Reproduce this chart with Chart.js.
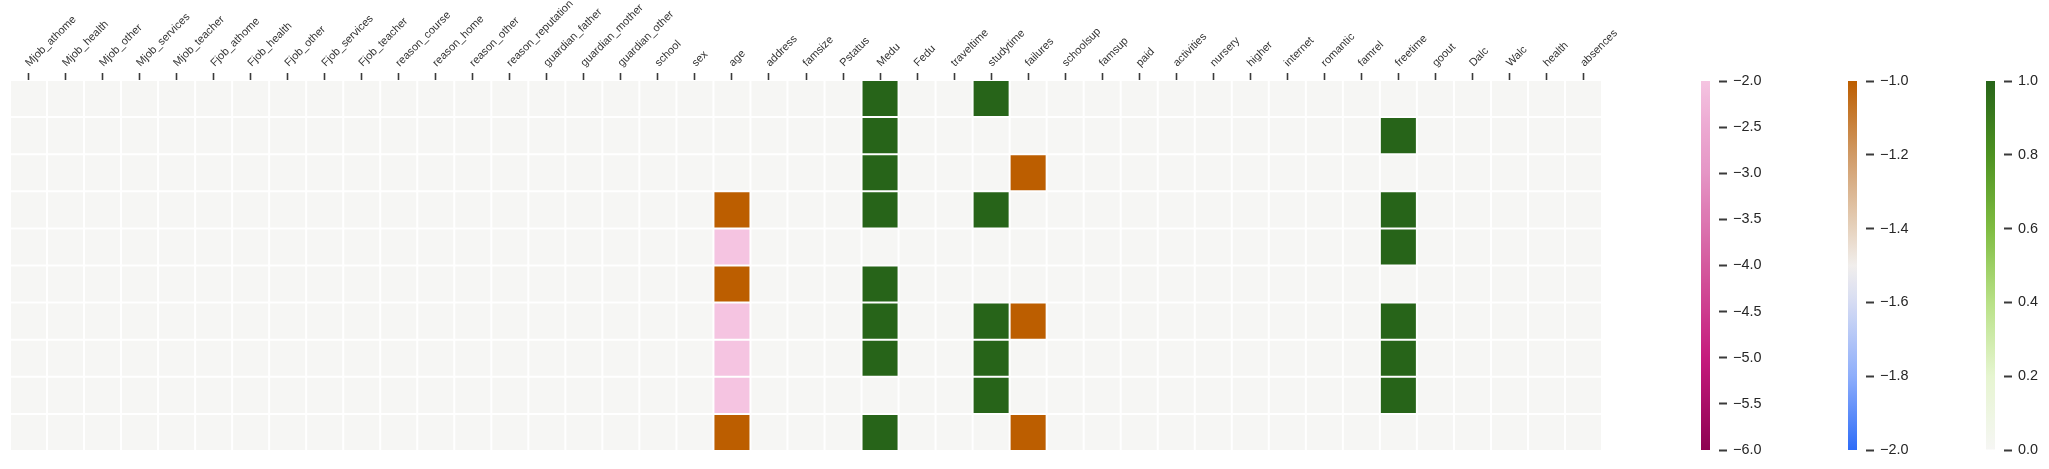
<!DOCTYPE html>
<html>
<head>
<meta charset="utf-8">
<script src="https://cdn.jsdelivr.net/npm/chart.js@4.4.1/dist/chart.umd.min.js"></script>
<style>
  html, body { margin: 0; padding: 0; background: #ffffff; overflow: hidden; }
  body { width: 2049px; height: 469px; position: relative; }
  canvas { position: absolute; }
</style>
</head>
<body>
<canvas id="main" style="left:0px;top:0px;width:1650px;height:469px" width="1650" height="469"></canvas>
<canvas id="cbPink" style="left:1701px;top:60px;width:80px;height:405px" width="80" height="405"></canvas>
<canvas id="cbOrange" style="left:1848px;top:60px;width:80px;height:405px" width="80" height="405"></canvas>
<canvas id="cbGreen" style="left:1986px;top:60px;width:80px;height:405px" width="80" height="405"></canvas>
<script>
// ---------------- data ----------------
const features = [
  'Mjob_athome','Mjob_health','Mjob_other','Mjob_services','Mjob_teacher',
  'Fjob_athome','Fjob_health','Fjob_other','Fjob_services','Fjob_teacher',
  'reason_course','reason_home','reason_other','reason_reputation',
  'guardian_father','guardian_mother','guardian_other',
  'school','sex','age','address','famsize','Pstatus','Medu','Fedu',
  'traveltime','studytime','failures','schoolsup','famsup','paid',
  'activities','nursery','higher','internet','romantic','famrel',
  'freetime','goout','Dalc','Walc','health','absences'
];
const sampleRows = ['0','1','2','3','4','5','6','7','8','9'];

// non-zero columns (all other columns are 0 for every row)
const ageVals       = [0, 0, 0, -1, -2, -1, -2, -2, -2, -1];
const meduVals      = [1, 1, 1, 1, 0, 1, 1, 1, 0, 1];
const studytimeVals = [1, 0, 0, 1, 0, 0, 1, 1, 1, 0];
const failuresVals  = [0, 0, -1, 0, 0, 0, -1, 0, 0, -1];
const freetimeVals  = [0, 1, 0, 1, 1, 0, 1, 1, 1, 0];

// colour bar ranges
const pinkRange   = [-6, -2];
const orangeRange = [-2, -1];
const greenRange  = [0, 1];

// ---------------- colour maps ----------------
const greenStops  = [[0,'#f6f6f4'],[0.2,'#e6f5d0'],[0.4,'#b8e186'],[0.6,'#7fbc41'],[0.8,'#4d9221'],[1,'#276419']];
const orangeStops = [[-2,'#2e6cf7'],[-1.8,'#8eaefb'],[-1.6,'#d6dcf3'],[-1.5,'#f1eeec'],[-1.4,'#e6d2bd'],[-1.2,'#d09a66'],[-1,'#bc5e00']];
const pinkStops   = [[-6,'#8e0152'],[-5,'#c51b7d'],[-4,'#d45a9e'],[-3,'#e595c5'],[-2.5,'#eca9d2'],[-2,'#f5c4e1']];

function hexToRgb(h){ h=h.replace('#',''); return [parseInt(h.slice(0,2),16),parseInt(h.slice(2,4),16),parseInt(h.slice(4,6),16)]; }
function interp(stops, v){
  if (v <= stops[0][0]) return stops[0][1];
  if (v >= stops[stops.length-1][0]) return stops[stops.length-1][1];
  for (let i=0;i<stops.length-1;i++){
    const [a,ca]=stops[i],[b,cb]=stops[i+1];
    if (v>=a && v<=b){
      const t=(v-a)/(b-a), A=hexToRgb(ca), B=hexToRgb(cb);
      const c=A.map((x,k)=>Math.round(x+(B[k]-x)*t));
      return 'rgb('+c.join(',')+')';
    }
  }
  return stops[0][1];
}
function cellColor(v){
  if (v >= 0) return interp(greenStops, v);
  if (v > -2) return interp(orangeStops, v);
  return interp(pinkStops, v);
}

const columnValues = [['age',ageVals],['Medu',meduVals],['studytime',studytimeVals],['failures',failuresVals],['freetime',freetimeVals]];
function valueAt(r, feat){
  for (const [name, arr] of columnValues) if (name === feat) return arr[r];
  return 0;
}

const textColor = '#262626';
const tickColor = '#3a3a3a';
const fam = "'Liberation Sans', Arial, sans-serif";

// rotated top labels drawn at each category tick of the x scale
const rotatedLabels = {
  id: 'rotatedLabels',
  afterDraw(chart) {
    const xs = chart.scales.x, ctx = chart.ctx;
    const baseY = chart.chartArea.top - 7 - 6;
    ctx.save();
    ctx.fillStyle = '#333333';
    ctx.font = "11px " + fam;
    ctx.textAlign = 'left';
    ctx.textBaseline = 'alphabetic';
    xs.ticks.forEach((t, i) => {
      const x = xs.getPixelForTick(i);
      ctx.save();
      ctx.translate(x + 1, baseY);
      ctx.rotate(-Math.PI / 4);
      ctx.fillText(xs.getLabelForValue(t.value), 0, 0);
      ctx.restore();
    });
    ctx.restore();
  }
};

// ---------------- heatmap ----------------
const datasets = sampleRows.map((lab, r) => ({
  label: lab,
  data: features.map(() => [r, r + 1]),
  backgroundColor: features.map(f => cellColor(valueAt(r, f))),
  borderColor: '#ffffff',
  borderWidth: 1,
  borderSkipped: false,
  grouped: false,
  barPercentage: 1,
  categoryPercentage: 1,
  inflateAmount: 0
}));

new Chart(document.getElementById('main'), {
  type: 'bar',
  data: { labels: features, datasets },
  options: {
    responsive: false,
    animation: false,
    devicePixelRatio: 1,
    layout: { padding: { left: 10, right: 48, top: 0, bottom: 18 } },
    plugins: { legend: { display: false }, tooltip: { enabled: false } },
    scales: {
      x: {
        type: 'category',
        position: 'top',
        offset: true,
        border: { display: false },
        grid: { display: true, drawOnChartArea: false, drawTicks: true, tickLength: 7, tickWidth: 1.6, tickColor: tickColor, offset: false },
        ticks: { display: false, autoSkip: false },
        afterFit: s => { s.height = 80; }
      },
      y: { type: 'linear', min: 0, max: 10, reverse: true, display: false }
    }
  },
  plugins: [rotatedLabels]
});

// ---------------- colour bars ----------------
function fmt(v){
  const r = Math.round(v * 10) / 10;
  return (r < 0 ? '\u2212' : '') + Math.abs(r).toFixed(1);
}
function colorBar(id, range, stops, step){
  new Chart(document.getElementById(id), {
    type: 'bar',
    data: { labels: ['cb'], datasets: [{
      data: [range],
      backgroundColor: (ctx) => {
        const ch = ctx.chart, area = ch.chartArea, ys = ch.scales.y;
        if (!area) return stops[0][1];
        const g = ch.ctx.createLinearGradient(0, ys.getPixelForValue(range[0]), 0, ys.getPixelForValue(range[1]));
        const n = 40;
        for (let i = 0; i <= n; i++) {
          const v = range[0] + (range[1] - range[0]) * i / n;
          g.addColorStop(i / n, interp(stops, v));
        }
        return g;
      },
      borderWidth: 0,
      barPercentage: 1,
      categoryPercentage: 1,
      inflateAmount: 0
    }]},
    options: {
      responsive: false,
      animation: false,
      devicePixelRatio: 1,
      layout: { padding: { left: 0, right: 0, top: 21, bottom: 15 } },
      plugins: { legend: { display: false }, tooltip: { enabled: false } },
      scales: {
        x: { display: false, offset: false },
        y: {
          type: 'linear', position: 'right', min: range[0], max: range[1],
          border: { display: false },
          grid: { drawOnChartArea: false, drawTicks: true, tickLength: 8, tickWidth: 2, tickColor: tickColor },
          ticks: { stepSize: step, padding: 6, color: textColor, font: { family: fam, size: 14.4 }, callback: v => fmt(v) },
          afterFit: s => { s.width = 62; }
        }
      }
    }
  });
}
colorBar('cbPink', pinkRange, pinkStops, 0.5);
colorBar('cbOrange', orangeRange, orangeStops, 0.2);
colorBar('cbGreen', greenRange, greenStops, 0.2);
</script>
</body>
</html>
